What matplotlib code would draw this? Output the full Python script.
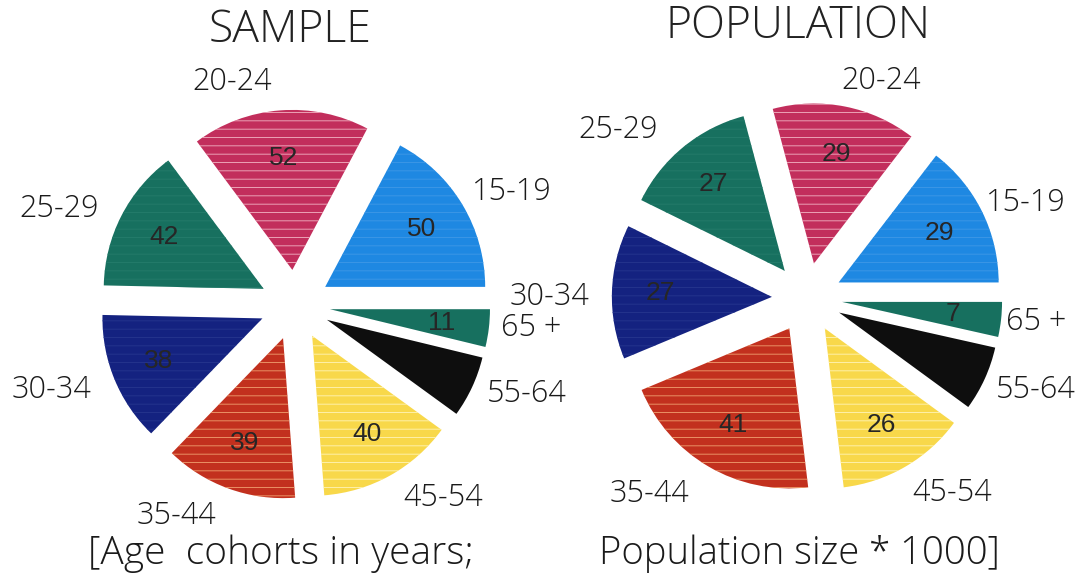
import matplotlib
matplotlib.use('Agg')
import matplotlib.pyplot as plt
from matplotlib import font_manager
import numpy as np

cohorts = ['15-19', '20-24', '25-29', '30-34', '35-44', '45-54', '55-64', '65 +']
sample = [50, 52, 42, 38, 39, 40, 18, 11]
population = [29, 29, 27, 27, 41, 26, 13, 7]
# value printed inside each wedge ('' = none printed)
sample_txt = ['50', '52', '42', '38', '39', '40', '', '11']
pop_txt = ['29', '29', '27', '27', '41', '26', '', '7']

# where the cohort names sit: (angle deg, radius in pie radii) from pie centre
sample_lab = [(27.5, 1.53), (105.7, 1.45), (157.8, 1.59), (199.3, 1.61),
              (240.6, 1.51), (307.5, 1.52), (339, 1.55), (354.4, 1.48)]
pop_lab = [(23.4, 1.49), (71.2, 1.43), (138.2, 1.58), (179.8, 1.61),
           (231.1, 1.57), (306.6, 1.52), (338, 1.54), (354, 1.44)]

colors = ['#1e88e2', '#c22e5c', '#17705f', '#142280', '#c2301e', '#f8d84a', '#0e0e0e', '#17705f']
hatch_cols = ['#3f98e6', '#f2b4c4', '#257c6b', '#26368e', '#f0a070', '#fff4b8', None, None]

# pick a thin face if one is installed
thin = 'Liberation Sans'
for fam in ['Roboto', 'Lato', 'Open Sans', 'Inter']:
    try:
        f = font_manager.findfont(font_manager.FontProperties(family=fam, weight='light'),
                                  fallback_to_default=False)
        if 'light' in f.lower():
            thin = fam
            break
    except Exception:
        pass
font = 'Liberation Sans'

plt.rcParams['hatch.linewidth'] = 0.6

fig = plt.figure(figsize=(10.83, 5.74), dpi=100)
fig.patch.set_facecolor('white')


def draw(ax, values, txt, labpos):
    wedges, _ = ax.pie(values, colors=colors, startangle=0, counterclock=True,
                       explode=[0.22] * len(values),
                       wedgeprops=dict(linewidth=0, edgecolor='white'))
    for w, hc in zip(wedges, hatch_cols):
        if hc:
            w.set_hatch('--')
            w.set_edgecolor(hc)
    for w, t in zip(wedges, txt):
        if not t:
            continue
        th = np.deg2rad((w.theta1 + w.theta2) / 2)
        cx, cy = w.center
        ax.text(cx + 0.70 * np.cos(th), cy + 0.70 * np.sin(th), t, ha='center', va='center',
                fontsize=19, family=font, color='#262626')
    for name, (a, r) in zip(cohorts, labpos):
        a = np.deg2rad(a)
        ax.text(r * np.cos(a), r * np.sin(a), name, ha='center', va='center',
                fontsize=22, family=thin, weight='light', color='#1a1a1a')
    ax.set_xlim(-1.6, 1.6)
    ax.set_ylim(-1.6, 1.6)
    ax.set_aspect('equal')
    ax.axis('off')


ax1 = fig.add_axes([0.036, 0.0226, 0.4728, 0.892])
ax2 = fig.add_axes([0.5088, 0.0348, 0.4728, 0.892])
draw(ax1, sample, sample_txt, sample_lab)
draw(ax2, population, pop_txt, pop_lab)

fig.text(0.2678, 0.946, 'SAMPLE', fontsize=32, family=thin, weight='light',
         color='#222222', ha='center', va='center')
fig.text(0.7365, 0.954, 'POPULATION', fontsize=32, family=thin, weight='light',
         color='#222222', ha='center', va='center')

fig.text(0.081, 0.035, '[Age  cohorts in years;', fontsize=28, family=thin, weight='light',
         color='#1a1a1a', va='center', ha='left')
fig.text(0.553, 0.035, 'Population size * 1000]', fontsize=27.5, family=thin, weight='light',
         color='#1a1a1a', va='center', ha='left')

fig.savefig('out.png', dpi=100, facecolor='white')
